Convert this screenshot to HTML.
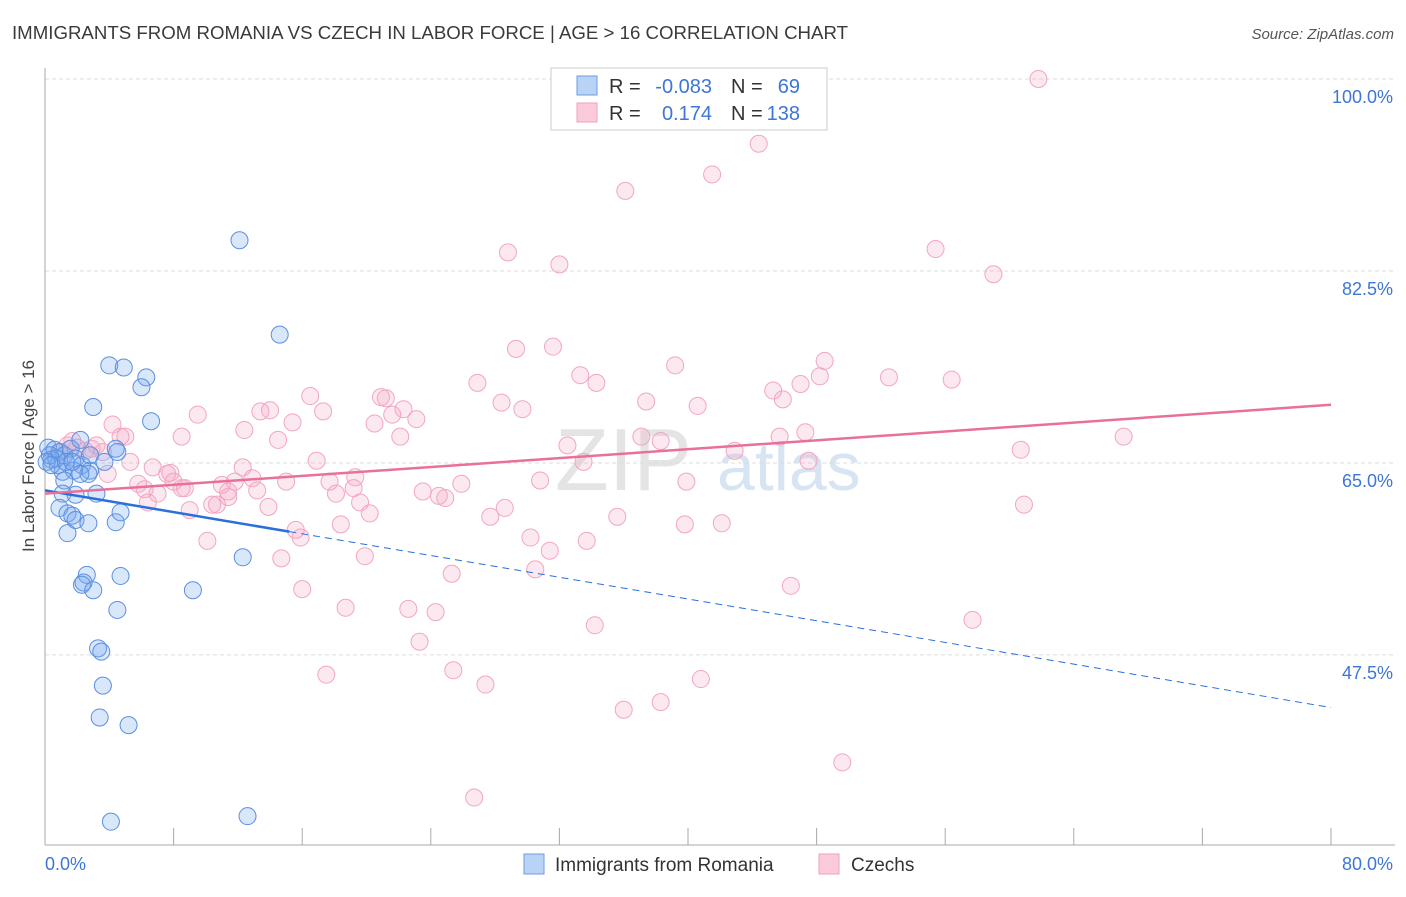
<!DOCTYPE html>
<html><head><meta charset="utf-8"><style>
body{margin:0;background:#fff;font-family:"Liberation Sans",sans-serif;}
svg text{font-family:"Liberation Sans",sans-serif;}
</style></head><body>
<svg id="chart" width="1406" height="892" viewBox="0 0 1406 892" xmlns="http://www.w3.org/2000/svg">
<text x="12" y="39" font-size="18.6" fill="#3a3a3a" textLength="836" lengthAdjust="spacingAndGlyphs">IMMIGRANTS FROM ROMANIA VS CZECH IN LABOR FORCE | AGE &gt; 16 CORRELATION CHART</text>
<text x="1394" y="39" font-size="15" fill="#555" font-style="italic" text-anchor="end">Source: ZipAtlas.com</text>
<g>
<text x="555" y="490" font-size="88" fill="#e4e4e4" font-family="Liberation Serif,serif">ZIP</text>
<text x="717" y="490" font-size="68" fill="#d6e4f4">atlas</text>
</g>
<g id="grid"></g>
<g id="axes"></g>
<g id="marks"></g>
<g id="lines"></g>
<text transform="translate(34,456) rotate(-90)" font-size="17" fill="#444" text-anchor="middle">In Labor Force | Age &gt; 16</text>
<g>
<rect x="551" y="68" width="276" height="62" fill="#fff" stroke="#ccc"/>
<rect x="577" y="76" width="20" height="19" fill="#b9d3f7" stroke="#6f9be0"/>
<rect x="577" y="103" width="20" height="19" fill="#fbcbdb" stroke="#f0a0bb"/>
<text x="609" y="93" font-size="20" fill="#333">R =</text>
<text x="712" y="93" font-size="20" fill="#3d76d6" text-anchor="end">-0.083</text>
<text x="731" y="93" font-size="20" fill="#333">N =</text>
<text x="800" y="93" font-size="20" fill="#3d76d6" text-anchor="end">69</text>
<text x="609" y="120" font-size="20" fill="#333">R =</text>
<text x="712" y="120" font-size="20" fill="#3d76d6" text-anchor="end">0.174</text>
<text x="731" y="120" font-size="20" fill="#333">N =</text>
<text x="800" y="120" font-size="20" fill="#3d76d6" text-anchor="end">138</text>
</g>
<g>
<rect x="524" y="854" width="20" height="20" fill="#b9d3f7" stroke="#6f9be0"/>
<text x="555" y="871" font-size="19" fill="#333">Immigrants from Romania</text>
<rect x="819" y="854" width="20" height="20" fill="#fbcbdb" stroke="#f0a0bb"/>
<text x="851" y="871" font-size="19" fill="#333">Czechs</text>
</g>
</svg>
<script>
const yTicks=[100,82.5,65,47.5];
const yTickLabels=["100.0%","82.5%","65.0%","47.5%"];
const xTicks=[0,8,16,24,32,40,48,56,64,72,80];
const xEndLabels=["0.0%","80.0%"];
const blueX=[12.1,14.6,4.0,4.9,6.3,6.0,3.0,6.6,0.2,0.6,0.4,0.9,1.2,1.6,1.9,2.2,2.3,2.8,2.7,3.7,4.5,4.4,0.8,1.1,1.8,2.2,1.2,1.1,1.9,3.2,0.9,1.4,1.7,1.9,2.7,4.4,4.7,1.4,2.6,2.4,2.3,4.7,3.0,9.2,12.3,4.5,3.3,3.5,3.6,3.4,5.2,4.1,12.6,0.3,0.7,0.1,0.4,1.3,1.7,2.8];
const blueY=[85.3,76.7,73.9,73.7,72.8,71.9,70.1,68.8,66.4,66.2,65.3,66.0,65.7,66.3,65.4,67.1,64.8,64.3,64.0,65.1,66.0,66.3,64.8,64.2,64.3,64.0,63.4,62.2,62.1,62.2,60.9,60.4,60.2,59.8,59.5,59.6,60.5,58.6,54.8,54.1,53.9,54.7,53.4,53.4,56.4,51.6,48.1,47.8,44.7,41.8,41.1,32.3,32.8,65.7,65.4,65.1,64.8,65.1,65.1,65.7];
const pinkX=[61.8,44.4,41.5,36.1,55.4,28.8,32.0,59.0,29.3,31.6,48.5,39.2,33.3,26.9,34.3,45.3,48.2,52.5,56.4,47.0,28.4,29.7,40.6,37.4,45.9,16.5,20.9,21.2,22.3,21.6,23.1,20.5,17.3,13.4,14.0,9.5,4.2,8.5,12.4,22.1,14.5,15.4,37.1,47.3,45.7,67.1,60.7,42.9,38.3,32.5,4.7,5.0,3.2,1.4,1.7,2.5,3.6,3.9,5.3,6.7,7.6,8.5,8.0,6.2,5.8,7.0,8.7,9.0,10.7,10.4,11.4,11.4,11.0,12.9,13.2,12.3,15.0,16.9,17.7,18.1,19.3,19.2,19.6,20.2,18.4,15.6,15.9,13.9,23.5,24.5,24.9,25.9,30.8,33.5,39.9,47.5,27.7,28.6,35.6,39.8,42.1,30.2,31.4,33.7,19.9,14.7,16.0,25.3,30.5,18.7,22.6,24.3,34.2,46.4,57.7,60.9,23.3,17.5,25.4,27.4,40.8,38.3,36.0,49.6,26.7,10.1,11.8,7.8,6.4,1.0,2.9,2.0];
const pinkY=[100,94.1,91.3,89.8,84.5,84.2,83.1,82.2,75.4,75.6,74.3,73.9,73.0,72.3,72.3,71.6,72.9,72.8,72.6,72.2,70.5,69.9,70.2,70.6,70.8,71.1,71.0,70.9,69.9,69.4,69.0,68.6,69.7,69.7,69.8,69.4,68.5,67.4,68.0,67.4,67.1,68.7,67.4,67.8,67.4,67.4,66.2,66.1,67.0,66.6,67.4,67.4,66.6,66.6,67.0,66.1,66.0,64.0,65.1,64.6,64.0,62.7,63.3,62.6,63.1,62.2,62.7,60.7,61.2,61.2,61.9,62.4,63.0,63.6,62.5,64.6,63.3,65.2,63.3,62.2,63.7,62.7,61.4,60.4,59.4,58.9,58.2,61.0,62.4,62.0,61.8,63.1,63.4,65.1,63.3,65.2,60.1,60.9,60.1,59.4,59.5,58.2,57.0,57.9,56.5,56.3,53.5,54.9,55.3,51.8,51.7,51.4,50.2,53.8,50.7,61.2,48.7,45.7,46.1,44.8,45.3,43.2,42.5,37.7,34.5,57.9,63.3,64.1,61.4,66.0,66.3,66.4];
const blueTrend=[62.5,42.7]; // value at x=0 and x=80
const blueSolidEnd=15.2;
const pinkTrend=[62.2,70.3];

const NS="http://www.w3.org/2000/svg";
const X0=45,X1=1331,Y100=79,PXPER=10.97;
const sx=v=>X0+(v/80)*(X1-X0);
const sy=v=>Y100+(100-v)*PXPER;
function mk(tag,attrs,parent){const e=document.createElementNS(NS,tag);for(const k in attrs)e.setAttribute(k,attrs[k]);parent.appendChild(e);return e;}
const grid=document.getElementById('grid'),axes=document.getElementById('axes'),marks=document.getElementById('marks'),lines=document.getElementById('lines');
yTicks.forEach((t,i)=>{
  const l=mk('line',{x1:X0,x2:1395,y1:sy(t),y2:sy(t),stroke:'#ddd','stroke-dasharray':'4,3'},grid);
  
  
  const tx=mk('text',{x:1393,y:sy(t)+24,'font-size':18,fill:'#3d76d6','text-anchor':'end'},grid);
  tx.textContent=yTickLabels[i];
  
  
});
const ax=mk('line',{x1:X0,x2:X0,y1:68,y2:845,stroke:'#aaa'},axes);


const bx=mk('line',{x1:X0,x2:1395,y1:845,y2:845,stroke:'#aaa'},axes);


xTicks.forEach(t=>{
  const l=mk('line',{x1:sx(t),x2:sx(t),y1:828,y2:845,stroke:'#aaa'},axes);
  
  
});
const xl0=mk('text',{x:45,y:870,'font-size':18,fill:'#3d76d6'},axes);xl0.textContent=xEndLabels[0];


const xl1=mk('text',{x:1393,y:870,'font-size':18,fill:'#3d76d6','text-anchor':'end'},axes);xl1.textContent=xEndLabels[1];


pinkX.forEach((x,i)=>{
  const c=mk('circle',{cx:sx(x),cy:sy(pinkY[i]),r:8.5,fill:'rgba(245,165,195,0.25)',stroke:'#f2a6c0','stroke-width':1},marks);
  
  
});
blueX.forEach((x,i)=>{
  const c=mk('circle',{cx:sx(x),cy:sy(blueY[i]),r:8.5,fill:'rgba(120,170,240,0.28)',stroke:'#5b8fe0','stroke-width':1},marks);
  
  
});
const bAt=x=>blueTrend[0]+(blueTrend[1]-blueTrend[0])*x/80;
const bl=mk('line',{x1:sx(0),y1:sy(bAt(0)),x2:sx(blueSolidEnd),y2:sy(bAt(blueSolidEnd)),stroke:'#2a6fdb','stroke-width':2.5},lines);


const bd=mk('line',{x1:sx(blueSolidEnd),y1:sy(bAt(blueSolidEnd)),x2:sx(80),y2:sy(bAt(80)),stroke:'#2a6fdb','stroke-width':1,'stroke-dasharray':'7,5'},lines);


const pl=mk('line',{x1:sx(0),y1:sy(pinkTrend[0]),x2:sx(80),y2:sy(pinkTrend[1]),stroke:'#e8709a','stroke-width':2.5},lines);


</script>
</body></html>
